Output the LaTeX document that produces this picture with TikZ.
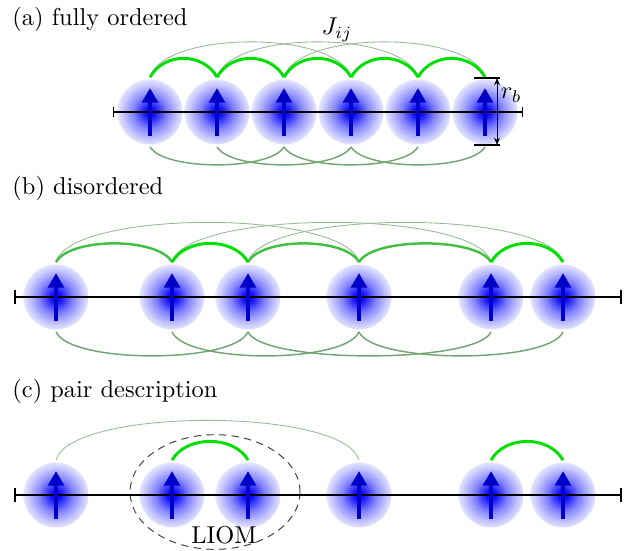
\documentclass[tikz,border=0pt]{standalone}
\usepackage{amsmath}
\usepackage{tikz}
\usetikzlibrary{arrows.meta,shapes.geometric,positioning}

\pgfdeclareradialshading{blob}{\pgfpoint{0bp}{0bp}}{%
  color(0bp)=(blue);
  color(4bp)=(blue!92!white);
  color(12.5bp)=(blue!50!white);
  color(21bp)=(blue!22!white);
  color(25bp)=(blue!11!white);
  color(50bp)=(blue!11!white)}

\begin{document}
\begin{tikzpicture}[
                x=0.41pt, y=-0.41pt,
                spin/.style={circle, shade, shading=blob, minimum size=26.6pt, inner sep=0pt, outer sep=1pt},
                up/.style={draw=blue!78!black, line width=2pt, -{Triangle[width=6.4pt,length=6pt]}},
                axisa/.style={line width=0.5pt, {Bar[width=4pt]}-{Bar[width=4pt]}},
                axisb/.style={line width=0.8pt, {Bar[width=6pt]}-{Bar[width=6pt]}},
                jn/.style={draw=green!88!black, line width=1.2pt},
                jmid/.style={draw=green!50!gray, line width=1pt},
                jbot/.style={draw={rgb,255:red,115;green,165;blue,115}, line width=0.6pt},
                jtop/.style={draw={rgb,255:red,150;green,185;blue,150}, line width=0.35pt},
                over/.style={to path={.. controls +(14,-#1) and +(-14,-#1) .. (\tikztotarget)}},
                under/.style={to path={.. controls +(14,#1) and +(-14,#1) .. (\tikztotarget)}},
                tick/.style={line width=0.5pt},
                dim/.style={line width=0.4pt, {Stealth[length=3pt,width=2.4pt]}-{Stealth[length=3pt,width=2.4pt]}},
                liom/.style={ellipse, draw=black!75, line width=0.4pt, dash pattern=on 3pt off 2.2pt,
                             minimum width=69.7pt, minimum height=47pt, inner sep=0pt},
                title/.style={anchor=base west, inner sep=0pt}
            ]
\useasboundingbox (0,0) rectangle (625,550);

% titles
                \node[title] (ta) at (12,25) {(a) fully ordered};
                \node[title] (tb) at (12,194) {(b) disordered};
                \node[title] (tc) at (12,397) {(c) pair description};

% (a) spins
                \node[spin] (a1) at (150,112) {};
                \node[spin] (a2) at (217,112) {};
                \node[spin] (a3) at (284,112) {};
                \node[spin] (a4) at (351,112) {};
                \node[spin] (a5) at (418,112) {};
                \node[spin] (a6) at (485,112) {};
                \coordinate (la) at (113,112);
                \coordinate (ra) at (523,112);

% (b) spins
                \node[spin] (b1) at (56,297) {};
                \node[spin] (b2) at (172,297) {};
                \node[spin] (b3) at (248,297) {};
                \node[spin] (b4) at (359,297) {};
                \node[spin] (b5) at (491,297) {};
                \node[spin] (b6) at (563,297) {};
                \coordinate (lb) at (14,297);
                \coordinate (rb) at (622,297);

% (c) spins
                \node[liom] (pair) at (215,492) {};
                \node[spin] (c1) at (56,495) {};
                \node[spin] (c2) at (172,495) {};
                \node[spin] (c3) at (248,495) {};
                \node[spin] (c4) at (359,495) {};
                \node[spin] (c5) at (491,495) {};
                \node[spin] (c6) at (563,495) {};
                \coordinate (lc) at (14,495);
                \coordinate (rc) at (622,495);

% axes
                \draw[axisa] (la) -- (ra);
                \draw[axisb] (lb) -- (rb);
                \draw[axisb] (lc) -- (rc);

% spin arrows
                \draw[up] (a1.center) ++(0,24) -- ++(0,-48);
                \draw[up] (a2.center) ++(0,24) -- ++(0,-48);
                \draw[up] (a3.center) ++(0,24) -- ++(0,-48);
                \draw[up] (a4.center) ++(0,24) -- ++(0,-48);
                \draw[up] (a5.center) ++(0,24) -- ++(0,-48);
                \draw[up] (a6.center) ++(0,24) -- ++(0,-48);
                \draw[up] (b1.center) ++(0,24) -- ++(0,-48);
                \draw[up] (b2.center) ++(0,24) -- ++(0,-48);
                \draw[up] (b3.center) ++(0,24) -- ++(0,-48);
                \draw[up] (b4.center) ++(0,24) -- ++(0,-48);
                \draw[up] (b5.center) ++(0,24) -- ++(0,-48);
                \draw[up] (b6.center) ++(0,24) -- ++(0,-48);
                \draw[up] (c1.center) ++(0,24) -- ++(0,-48);
                \draw[up] (c2.center) ++(0,24) -- ++(0,-48);
                \draw[up] (c3.center) ++(0,24) -- ++(0,-48);
                \draw[up] (c4.center) ++(0,24) -- ++(0,-48);
                \draw[up] (c5.center) ++(0,24) -- ++(0,-48);
                \draw[up] (c6.center) ++(0,24) -- ++(0,-48);

% couplings (a)
                \draw[jtop] (a1.north) to[over=47] (a4.north);
                \draw[jtop] (a2.north) to[over=47] (a5.north);
                \draw[jtop] (a3.north) to[over=47] (a6.north);
                \draw[jn] (a1.north) to[over=25] (a2.north);
                \draw[jn] (a2.north) to[over=25] (a3.north);
                \draw[jn] (a3.north) to[over=25] (a4.north);
                \draw[jn] (a4.north) to[over=25] (a5.north);
                \draw[jn] (a5.north) to[over=25] (a6.north);
                \draw[jbot] (a1.south) to[under=24] (a3.south);
                \draw[jbot] (a2.south) to[under=24] (a4.south);
                \draw[jbot] (a3.south) to[under=24] (a5.south);
                \draw[jbot] (a4.south) to[under=24] (a6.south);

% couplings (b)
                \draw[jtop] (b1.north) to[over=53] (b4.north);
                \draw[jtop] (b2.north) to[over=53] (b5.north);
                \draw[jtop] (b3.north) to[over=53] (b6.north);
                \draw[jmid] (b1.north) to[over=25] (b2.north);
                \draw[jn] (b2.north) to[over=25] (b3.north);
                \draw[jmid] (b3.north) to[over=25] (b4.north);
                \draw[jmid] (b4.north) to[over=25] (b5.north);
                \draw[jn] (b5.north) to[over=25] (b6.north);
                \draw[jbot] (b1.south) to[under=32] (b3.south);
                \draw[jbot] (b2.south) to[under=32] (b4.south);
                \draw[jbot] (b3.south) to[under=32] (b5.south);
                \draw[jbot] (b4.south) to[under=32] (b6.south);

% couplings (c)
                \draw[jtop] (c1.north) to[over=53] (c4.north);
                \draw[jn] (c2.north) to[over=25] (c3.north);
                \draw[jn] (c5.north) to[over=25] (c6.north);

% r_b marker
                \coordinate (rbtl) at (474,78);
                \coordinate (rbtr) at (500,78);
                \coordinate (rbbl) at (474,145);
                \coordinate (rbbr) at (500,145);
                \coordinate (rbup) at (497,78);
                \coordinate (rbdn) at (497,145);
                \draw[tick] (rbtl) -- (rbtr);
                \draw[tick] (rbbl) -- (rbbr);
                \draw[dim] (rbup) -- (rbdn);

% labels
                \node[anchor=west, inner sep=1pt] (rblab) at (498,95) {$r_b$};
                \node (jij) at (337,30) {$J_{ij}$};
                \node (lioml) at (224,535) {LIOM};

            \end{tikzpicture}
\end{document}
